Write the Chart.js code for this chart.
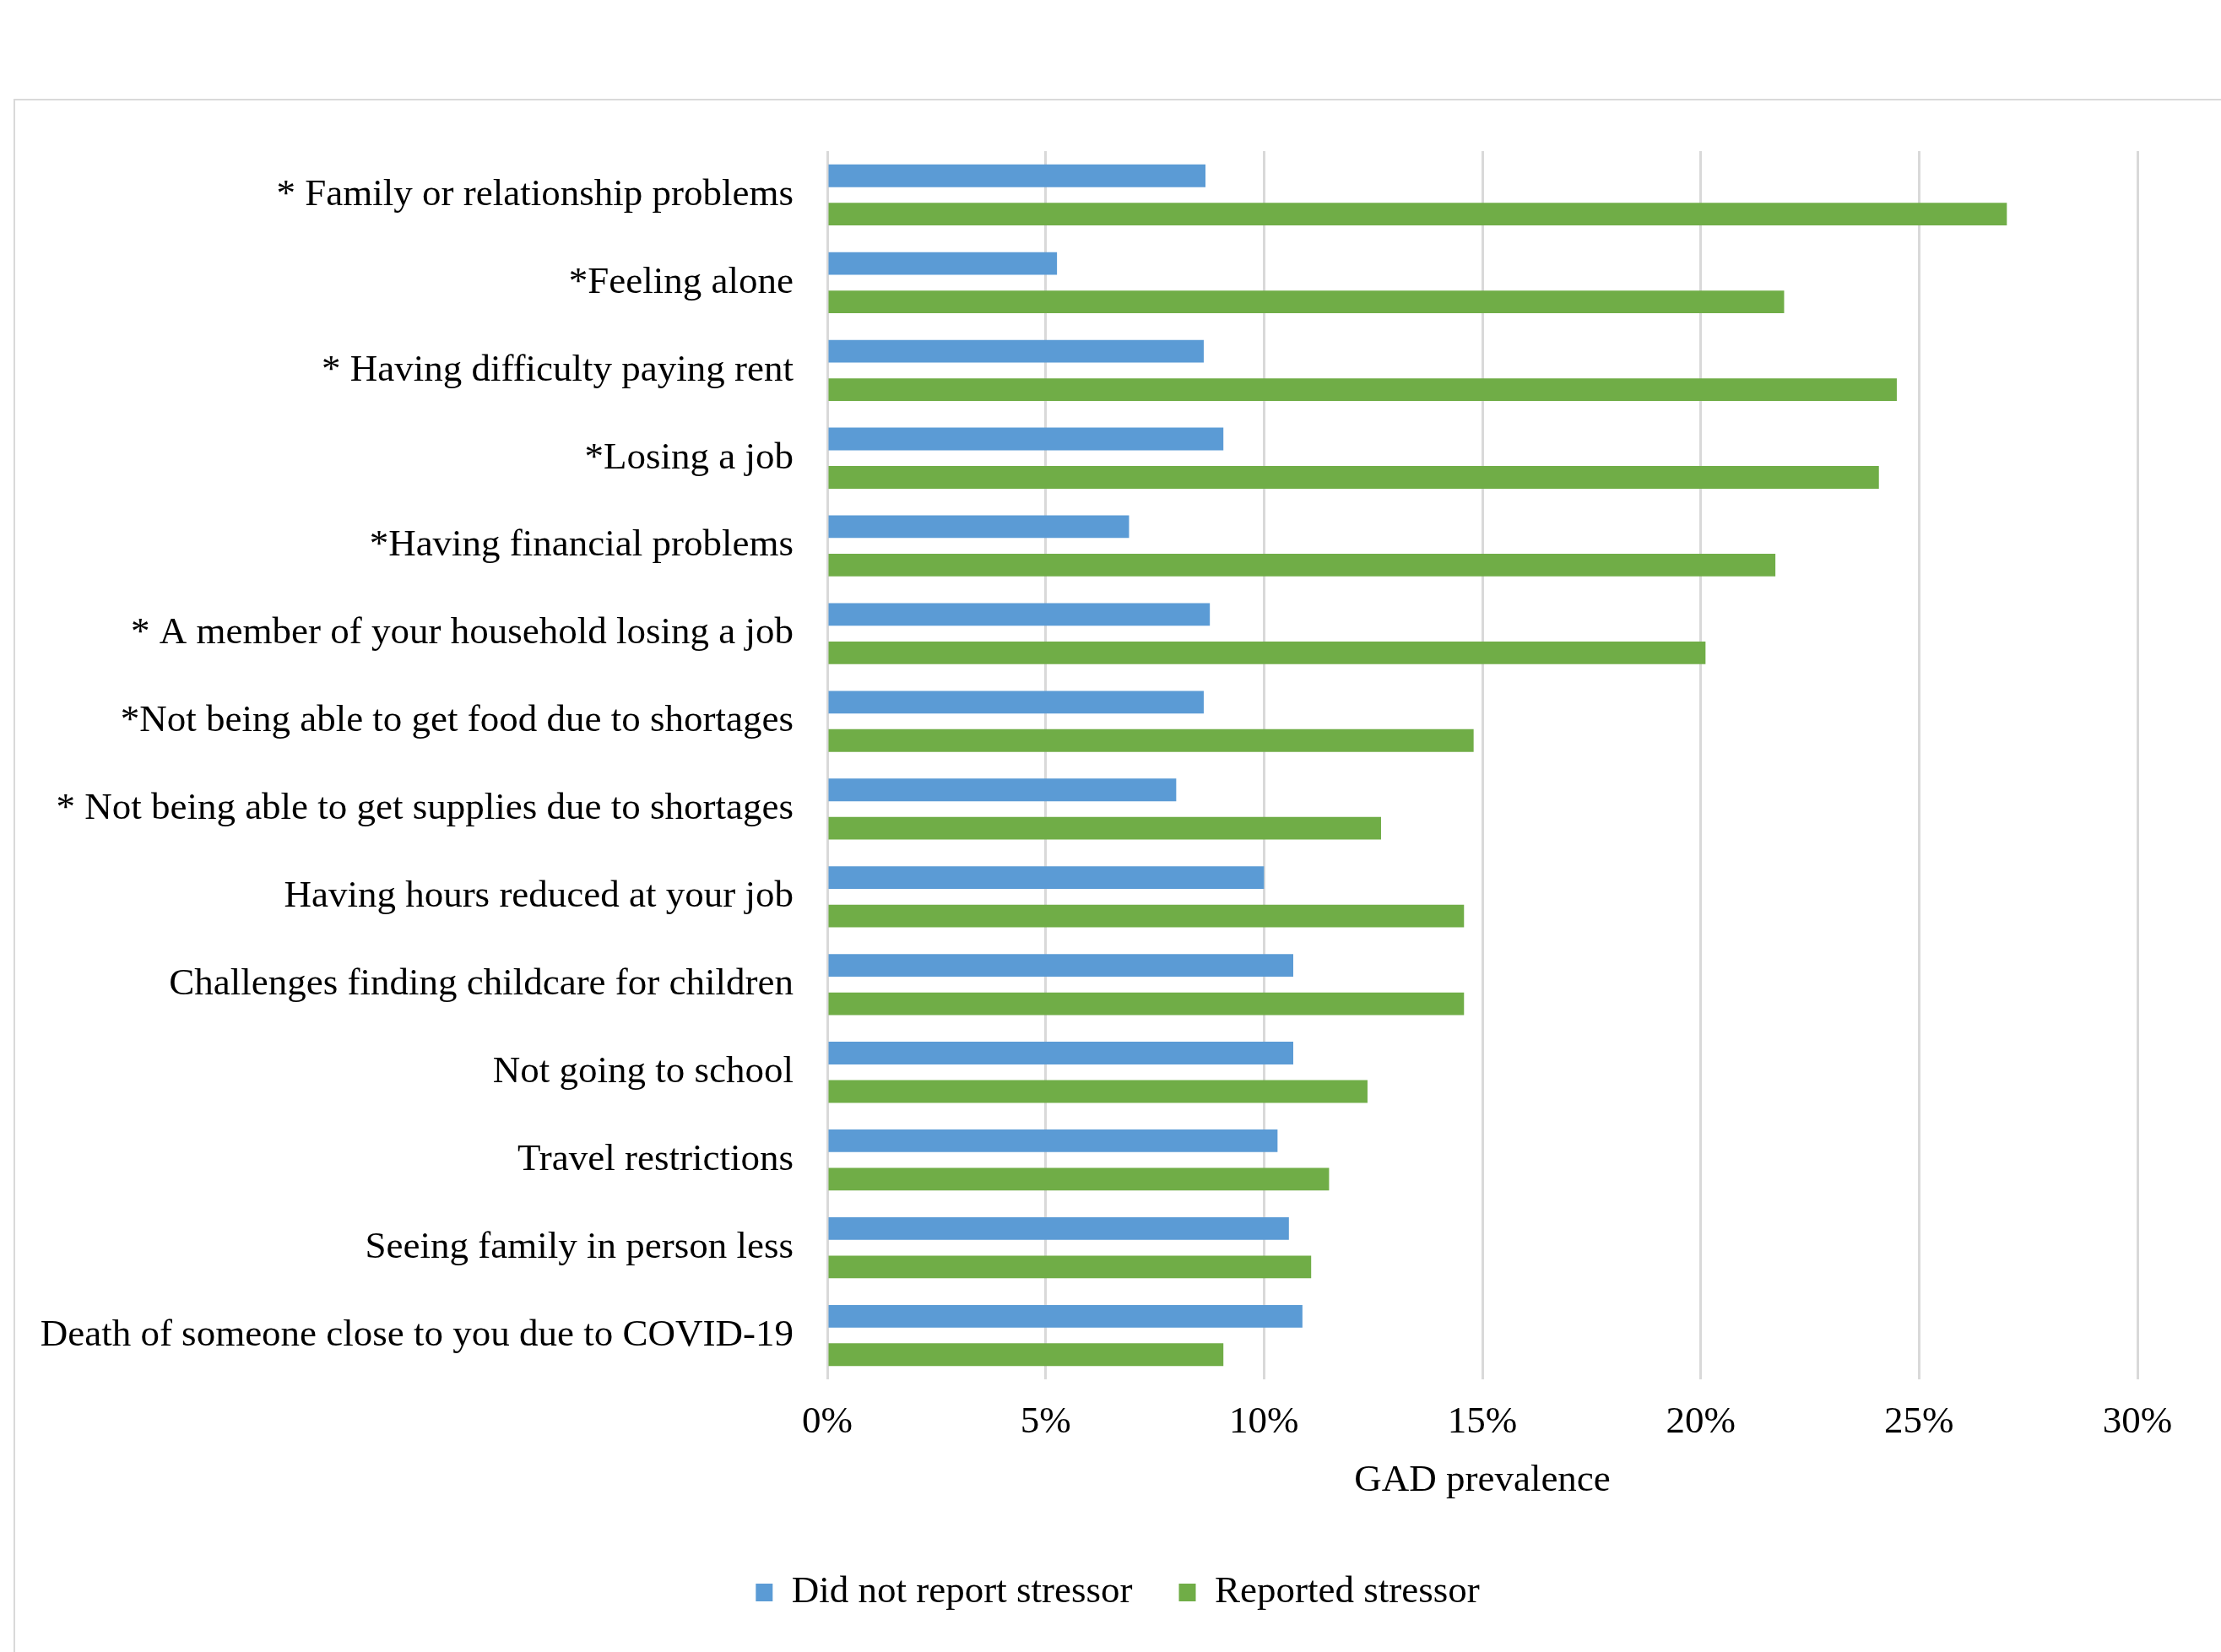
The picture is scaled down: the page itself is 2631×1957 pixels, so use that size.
<!DOCTYPE html>
<html>
<head>
<meta charset="utf-8">
<script src="https://cdn.jsdelivr.net/npm/chart.js@4.4.1/dist/chart.umd.min.js"></script>
<style>
    html, body { margin: 0; padding: 0; background: #ffffff; overflow: hidden; }
    #frame {
        position: absolute;
        left: 16px;
        top: 117px;
        width: 2700px;
        height: 1900px;
        border-left: 2px solid #d9d9d9;
        border-top: 2px solid #d9d9d9;
    }
    #gadChart { display: block; }
</style>
</head>
<body>
<div id="frame"><canvas id="gadChart" width="2640" height="1880"></canvas></div>
<script>
// stressors, top to bottom
const stressors = [
    '* Family or relationship problems',
    '*Feeling alone',
    '* Having difficulty paying rent',
    '*Losing a job',
    '*Having financial problems',
    '* A member of your household losing a job',
    '*Not being able to get food due to shortages',
    '* Not being able to get supplies due to shortages',
    'Having hours reduced at your job',
    'Challenges finding childcare for children',
    'Not going to school',
    'Travel restrictions',
    'Seeing family in person less',
    'Death of someone close to you due to COVID-19'
];

// GAD prevalence (%)
const didNotReport = [8.66, 5.26, 8.62, 9.07, 6.91, 8.76, 8.62, 7.99, 10.0, 10.67, 10.67, 10.31, 10.57, 10.88];
const reported = [27.01, 21.91, 24.49, 24.08, 21.71, 20.11, 14.80, 12.68, 14.58, 14.58, 12.37, 11.49, 11.08, 9.07];

const seriesNames = ['Did not report stressor', 'Reported stressor'];
const xTicks = [0, 5, 10, 15, 20, 25, 30];
const xTitle = 'GAD prevalence';

// the legend sits centred on the whole frame, not on the plot
const legendShift = {
    id: 'legendShift',
    afterLayout(chart) {
        const dx = 1306 - (chart.legend.left + chart.legend.right) / 2;
        chart.legend.left += dx;
        chart.legend.right += dx;
    }
};

document.addEventListener('DOMContentLoaded', function() {
    const ctx = document.getElementById('gadChart').getContext('2d');
    const font = { family: '"Liberation Serif", "Times New Roman", serif', size: 45 };

    new Chart(ctx, {
        type: 'bar',
        data: {
            labels: stressors,
            datasets: [{
                label: seriesNames[0],
                data: didNotReport,
                backgroundColor: '#5b9bd5',
                borderWidth: 0,
                barPercentage: 0.59,
                categoryPercentage: 0.875
            }, {
                label: seriesNames[1],
                data: reported,
                backgroundColor: '#70ad47',
                borderWidth: 0,
                barPercentage: 0.59,
                categoryPercentage: 0.875
            }]
        },
        options: {
            indexAxis: 'y',
            responsive: false,
            animation: false,
            layout: { padding: { top: 60, left: 0, right: 126, bottom: 80 } },
            plugins: {
                legend: {
                    position: 'bottom',
                    labels: {
                        font: font,
                        color: '#000',
                        boxWidth: 20,
                        boxHeight: 21,
                        padding: 55
                    }
                },
                tooltip: { enabled: false }
            },
            scales: {
                x: {
                    min: 0,
                    max: 30,
                    afterBuildTicks: axis => { axis.ticks = xTicks.map(v => ({ value: v })); },
                    grid: { color: '#d9d9d9', lineWidth: 3, drawTicks: false },
                    border: { display: false },
                    ticks: {
                        font: font,
                        color: '#000',
                        padding: 24,
                        callback: v => v + '%'
                    },
                    title: {
                        display: true,
                        text: xTitle,
                        font: font,
                        color: '#000',
                        padding: { top: -9, bottom: 28 }
                    }
                },
                y: {
                    afterFit: axis => {
                        axis.width = 962;
                        axis.paddingTop = 0;
                        axis.paddingBottom = 0;
                    },
                    grid: { display: false, drawTicks: false },
                    border: { display: false },
                    ticks: {
                        font: font,
                        color: '#000',
                        padding: 40,
                        autoSkip: false
                    }
                }
            }
        },
        plugins: [legendShift]
    });
});
</script>
</body>
</html>
